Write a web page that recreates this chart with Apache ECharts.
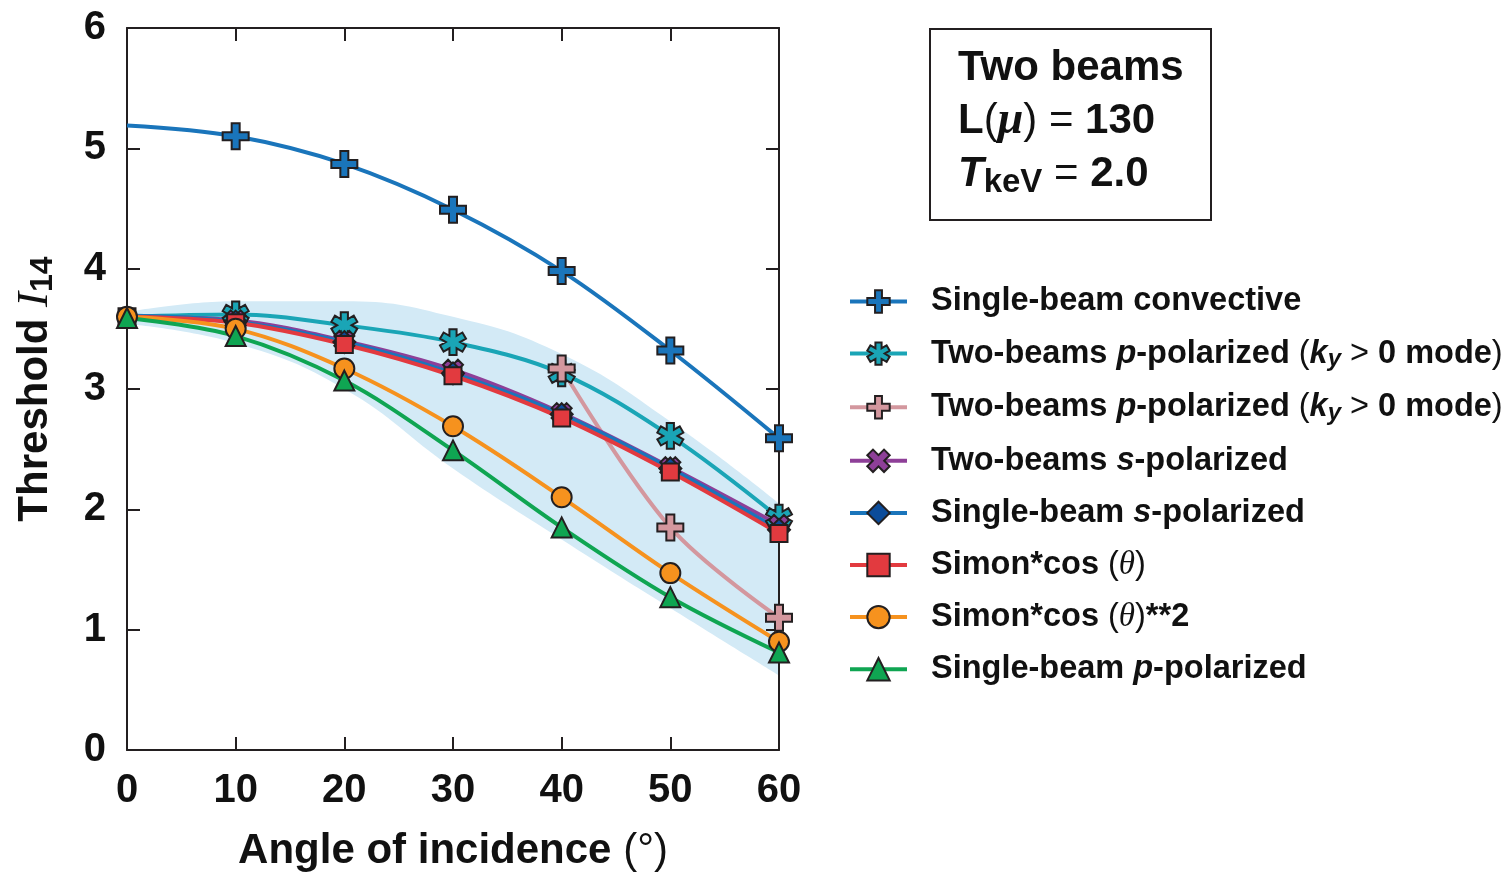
<!DOCTYPE html>
<html>
<head>
<meta charset="utf-8">
<script src="https://cdn.jsdelivr.net/npm/echarts@6/dist/echarts.min.js"></script>
<style>html,body{margin:0;padding:0;background:#fff;}#c{width:1511px;height:873px;}</style>
</head>
<body>
<div id="c"></div>
<script>
// ---------- DATA ----------
const angles = [0, 10, 20, 30, 40, 50, 60];
const xTicks = [0, 10, 20, 30, 40, 50, 60];
const yTicks = [0, 1, 2, 3, 4, 5, 6];
const convective   = [5.19, 5.10, 4.87, 4.49, 3.98, 3.32, 2.59];
const twoBeamP1    = [3.60, 3.62, 3.53, 3.39, 3.13, 2.61, 1.93];
const twoBeamP2Angles = [40, 50, 60];
const twoBeamP2    = [3.17, 1.85, 1.10];
const twoBeamS     = [3.60, 3.57, 3.40, 3.16, 2.80, 2.35, 1.87];
const singleBeamS  = [3.61, 3.56, 3.39, 3.13, 2.79, 2.34, 1.83];
const simonCos     = [3.60, 3.55, 3.37, 3.11, 2.76, 2.31, 1.80];
const simonCos2    = [3.60, 3.50, 3.17, 2.69, 2.10, 1.47, 0.90];
const singleBeamP  = [3.59, 3.44, 3.07, 2.49, 1.85, 1.27, 0.81];
const bandAngles   = [0, 10, 20, 30, 40, 50, 60];
const bandUpper    = [3.64, 3.73, 3.73, 3.60, 3.29, 2.73, 2.05];
const bandLower    = [3.54, 3.38, 3.00, 2.34, 1.75, 1.18, 0.62];
const seriesNames = [
  'Single-beam convective',
  'Two-beams p-polarized (ky > 0 mode)',
  'Two-beams p-polarized (ky > 0 mode)\u200b',
  'Two-beams s-polarized',
  'Single-beam s-polarized',
  'Simon*cos (θ)',
  'Simon*cos (θ)**2',
  'Single-beam p-polarized'
];
const legendRich = [
  '{sp| }{b|Single-beam convective}',
  '{sp| }{b|Two-beams }{bi|p}{b|-polarized }{n|(}{bi|k}{sub|y}{n| > }{b|0 mode}{n|)}',
  '{sp| }{b|Two-beams }{bi|p}{b|-polarized }{n|(}{bi|k}{sub|y}{n| > }{b|0 mode}{n|)}',
  '{sp| }{b|Two-beams }{bi|s}{b|-polarized}',
  '{sp| }{b|Single-beam }{bi|s}{b|-polarized}',
  '{sp| }{b|Simon*cos }{n|(}{th|θ}{n|)}',
  '{sp| }{b|Simon*cos }{n|(}{th|θ}{n|)}{b|**2}',
  '{sp| }{b|Single-beam }{bi|p}{b|-polarized}'
];

// ---------- STYLE ----------
const FF = '"Liberation Sans", Arial, Helvetica, sans-serif';
const SERIF = '"Liberation Serif", "Times New Roman", serif';
const INK = '#231f20';
function starPath(n, a0, R, w) {
  const half = Math.PI / n, d = w / Math.sin(half), pts = [];
  for (let k = 0; k < n; k++) {
    const t = a0 + k * 2 * Math.PI / n;
    const ux = Math.cos(t), uy = Math.sin(t), nx = -Math.sin(t), ny = Math.cos(t);
    pts.push([R * ux - w * nx, R * uy - w * ny]);
    pts.push([R * ux + w * nx, R * uy + w * ny]);
    pts.push([d * Math.cos(t + half), d * Math.sin(t + half)]);
  }
  return 'path://M' + pts.map(p => p[0].toFixed(3) + ',' + p[1].toFixed(3)).join(' L') + ' Z';
}
const PLUS = starPath(4, 0, 13, 4);
const AST = starPath(6, Math.PI / 2, 13, 3.6);
const XMARK = starPath(4, Math.PI / 4, 10, 3.4);

function mk(name, xs, ys, color, symbol, size, fill, hideFirst) {
  return {
    type: 'line', name: name, smooth: 0.35, clip: false,
    data: xs.map((x, i) => (hideFirst && i === 0) ? { value: [x, ys[i]], symbol: 'none' } : { value: [x, ys[i]] }),
    symbol: symbol, symbolSize: size, symbolKeepAspect: true, showSymbol: true,
    lineStyle: { color: color, width: 4 },
    itemStyle: { color: fill || color, borderColor: INK, borderWidth: 2, opacity: 1 },
    emphasis: { disabled: true }, z: 4
  };
}

const series = [
  { type: 'line', name: 'bandUpper', smooth: 0.45, symbol: 'none', silent: true,
    data: bandAngles.map((x, i) => [x, bandUpper[i]]), lineStyle: { width: 0, opacity: 0 },
    areaStyle: { color: '#d3eaf6', opacity: 1, origin: 'start' }, z: 1 },
  { type: 'line', name: 'bandLower', smooth: 0.45, symbol: 'none', silent: true,
    data: bandAngles.map((x, i) => [x, bandLower[i]]), lineStyle: { width: 0, opacity: 0 },
    areaStyle: { color: '#ffffff', opacity: 1, origin: 'start' }, z: 2 },
  mk(seriesNames[0], angles, convective, '#1a75bb', PLUS, 26, null, true),
  mk(seriesNames[1], angles, twoBeamP1, '#1aa5b6', AST, 26, null, true),
  mk(seriesNames[2], twoBeamP2Angles, twoBeamP2, '#d3979e', PLUS, 26, null, false),
  mk(seriesNames[3], angles, twoBeamS, '#8e3f98', XMARK, 20, null, true),
  mk(seriesNames[4], angles, singleBeamS, '#1a75bb', 'diamond', 22, '#0c4c9a', true),
  mk(seriesNames[5], angles, simonCos, '#e23a3f', 'rect', 17, null, false),
  mk(seriesNames[6], angles, simonCos2, '#f6921e', 'circle', 20, null, false),
  mk(seriesNames[7], angles, singleBeamP, '#0fa552', 'triangle', 20, null, false)
];

const axisCommon = {
  type: 'value', splitLine: { show: false }, z: 3,
  axisLine: { show: true, onZero: false, lineStyle: { color: INK, width: 2 } },
  axisTick: { show: true, inside: true, length: 13, lineStyle: { color: INK, width: 2 } }
};
const tickFont = { fontSize: 40, fontWeight: 'bold', fontFamily: FF, color: '#111' };

const option = {
  animation: false,
  backgroundColor: '#fff',
  grid: { left: 127, right: 732, top: 28, bottom: 123, containLabel: false, outerBoundsMode: 'none' },
  xAxis: [
    Object.assign({}, axisCommon, {
      position: 'bottom', min: xTicks[0], max: xTicks[xTicks.length - 1], interval: 10,
      axisLabel: Object.assign({ margin: 21, formatter: v => String(v) }, tickFont),
      name: '{b|Angle of incidence }{n|(°)}', nameLocation: 'middle', nameGap: 80,
      nameTextStyle: { rich: {
        b: { fontSize: 42, fontWeight: 'bold', fontFamily: FF, color: '#111' },
        n: { fontSize: 42, fontWeight: 'normal', fontFamily: FF, color: '#111' } } }
    }),
    Object.assign({}, axisCommon, {
      position: 'top', min: 0, max: 60, interval: 10, axisLabel: { show: false }
    })
  ],
  yAxis: [
    Object.assign({}, axisCommon, {
      position: 'left', min: yTicks[0], max: yTicks[yTicks.length - 1], interval: 1,
      axisLabel: Object.assign({ margin: 21 }, tickFont),
      name: '{b|Threshold }{i|I}{sub|14}', nameLocation: 'middle', nameGap: 68, nameRotate: 90,
      nameTextStyle: { rich: {
        b: { fontSize: 42, fontWeight: 'bold', fontFamily: FF, color: '#111', lineHeight: 48 },
        i: { fontSize: 45, fontStyle: 'italic', fontFamily: SERIF, color: '#111', lineHeight: 48 },
        sub: { fontSize: 32, fontWeight: 'bold', fontFamily: FF, color: '#111', lineHeight: 27, verticalAlign: 'bottom' } } }
    }),
    Object.assign({}, axisCommon, {
      position: 'right', min: 0, max: 6, interval: 1, axisLabel: { show: false }
    })
  ],
  legend: {
    orient: 'vertical', left: 843, top: 280, itemWidth: 57, itemHeight: 28, itemGap: 19.1,
    selectedMode: false,
    data: seriesNames,
    lineStyle: { width: 4 },
    formatter: name => legendRich[seriesNames.indexOf(name)],
    textStyle: { rich: {
      sp: { width: 19, fontSize: 32, lineHeight: 36 },
      b: { fontSize: 32.5, fontWeight: 'bold', fontFamily: FF, color: '#111', lineHeight: 36 },
      bi: { fontSize: 32.5, fontWeight: 'bold', fontStyle: 'italic', fontFamily: FF, color: '#111', lineHeight: 36 },
      n: { fontSize: 32.5, fontWeight: 'normal', fontFamily: FF, color: '#111', lineHeight: 36 },
      th: { fontSize: 33, fontStyle: 'italic', fontFamily: SERIF, color: '#111', lineHeight: 36 },
      sub: { fontSize: 24, fontWeight: 'bold', fontStyle: 'italic', fontFamily: FF, color: '#111', lineHeight: 20, verticalAlign: 'bottom' }
    } }
  },
  graphic: [
    { type: 'rect', left: 929, top: 28, shape: { width: 281, height: 191 },
      style: { fill: '#fff', stroke: INK, lineWidth: 2 }, z: 10 },
    { type: 'text', x: 958, y: 68, z: 11, style: {
      text: 'Two beams', font: 'bold 42px ' + FF, fill: '#111', verticalAlign: 'middle', align: 'left' } },
    { type: 'text', x: 958, y: 121, z: 11, style: {
      text: '{b|L}{n|(}{mu|μ}{n|)}{n| = }{b|130}', verticalAlign: 'middle', align: 'left',
      rich: {
        b: { fontSize: 42, fontWeight: 'bold', fontFamily: FF, fill: '#111', lineHeight: 50 },
        n: { fontSize: 42, fontWeight: 'normal', fontFamily: FF, fill: '#111', lineHeight: 50 },
        mu: { fontSize: 46, fontStyle: 'italic', fontWeight: 'bold', fontFamily: SERIF, fill: '#111', lineHeight: 50 }
      } } },
    { type: 'text', x: 958, y: 174, z: 11, style: {
      text: '{t|T}{sub|keV}{n| = }{b|2.0}', verticalAlign: 'middle', align: 'left',
      rich: {
        t: { fontSize: 42, fontWeight: 'bold', fontStyle: 'italic', fontFamily: FF, fill: '#111', lineHeight: 50 },
        b: { fontSize: 42, fontWeight: 'bold', fontFamily: FF, fill: '#111', lineHeight: 50 },
        n: { fontSize: 42, fontWeight: 'normal', fontFamily: FF, fill: '#111', lineHeight: 50 },
        sub: { fontSize: 33, fontWeight: 'bold', fontFamily: FF, fill: '#111', lineHeight: 36, verticalAlign: 'bottom' }
      } } }
  ],
  series: series
};

const chart = echarts.init(document.getElementById('c'), null, { renderer: 'canvas' });
chart.setOption(option);
</script>
</body>
</html>
